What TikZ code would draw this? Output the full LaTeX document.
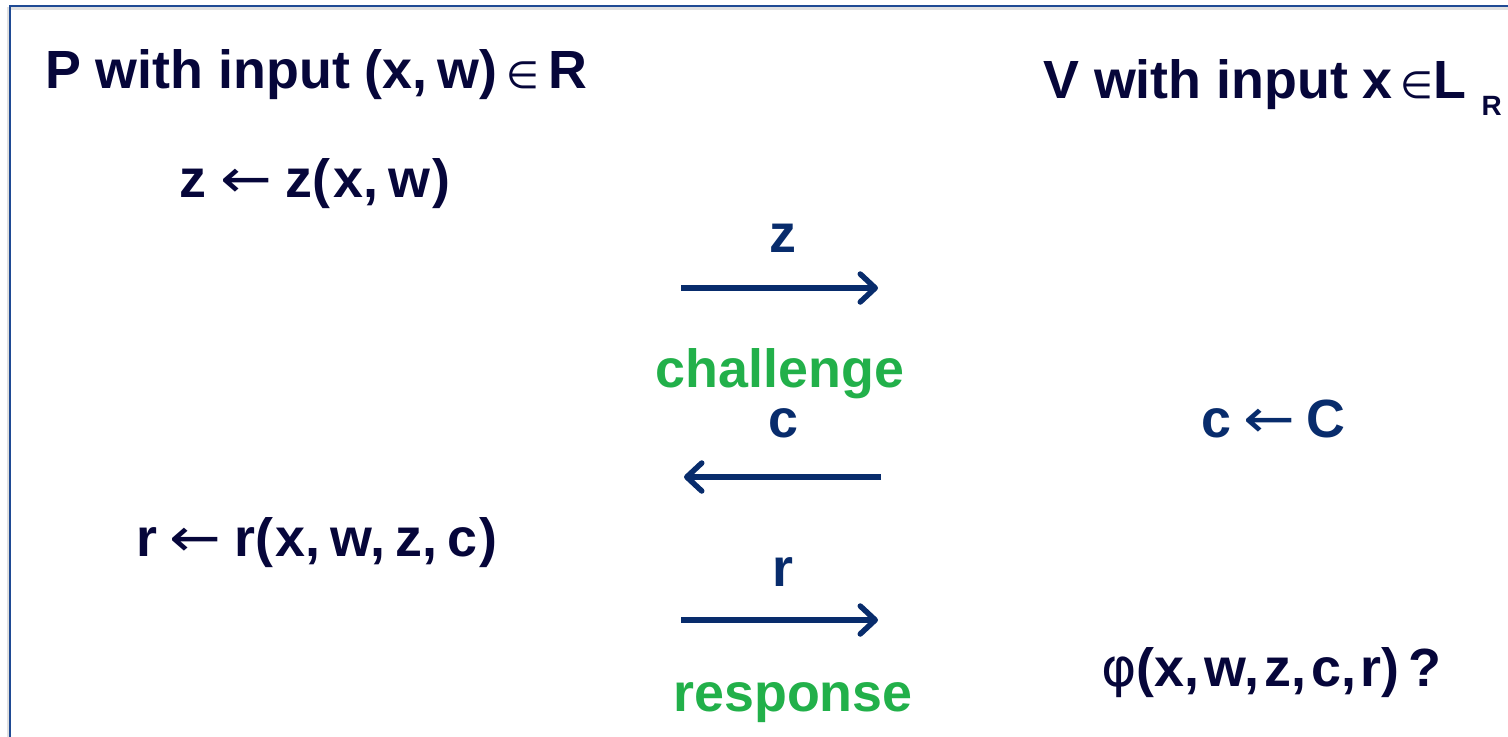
\documentclass[tikz,border=0pt]{standalone}
\usepackage{fontspec}
\setmainfont{Liberation Sans}
\newfontfamily\symfont{DejaVu Sans}
\usetikzlibrary{arrows.meta}

\definecolor{ink}{HTML}{06063A}
\definecolor{arrowblue}{HTML}{082C6C}
\definecolor{frameblue}{HTML}{1F4A94}
\definecolor{labelgreen}{HTML}{22B04A}

% thin-weight symbols set beside the bold text
\newcommand\inSym{\scalebox{0.7}{\symfont\mdseries ∈}}
\newcommand\getsSym{\scalebox{1.15}[1]{\symfont\mdseries ←}}
\newcommand\phiSym{{\symfont\mdseries φ}}
% comma followed by a gap, as in argument lists
\newcommand\sepc{,\kern5bp}
\newcommand\sepw{,\kern10bp}

\begin{document}
\begin{tikzpicture}[x=1bp,y=-1bp,
  txt/.style={inner sep=0pt, anchor=base west, text=ink,
    font=\fontsize{54}{60}\selectfont\bfseries},
  bluetxt/.style={txt, text=arrowblue},
  msglabel/.style={inner sep=0pt, anchor=base, text=arrowblue,
    font=\fontsize{54}{60}\selectfont\bfseries},
  phase/.style={inner sep=0pt, anchor=base, text=labelgreen,
    font=\fontsize{54}{60}\selectfont\bfseries},
  msg/.style={draw=arrowblue, line width=5.5bp,
    -{Straight Barb[length=15bp, width=28bp, line width=5.5bp, line cap=round, line join=round]}},
  frame/.style={draw=frameblue, line width=2.2bp},
  frameshadow/.style={draw=black!12, line width=3bp}]

\useasboundingbox (0,0) rectangle (1508,737);

% slide frame (top and left edges)
\draw[frameshadow] (8,737) -- (8,9) -- (1508,9);
\draw[frame] (10,737) -- (10,6) -- (1508,6);

% party headings
\node[txt] (prover) at (45,88)
  {P with input (x\sepw w)\kern9bp\inSym\kern9bp R};
\node[txt] (verifier) at (1043,98)
  {V with input x\kern8bp\inSym\kern0bp L\kern15bp\raisebox{-17bp}{\fontsize{28}{28}\selectfont R}};

% prover side
\node[txt] (commit) at (179,197)
  {z\kern14bp\getsSym\kern14bp z(\kern3bp x\sepw w\kern2bp)};
\node[txt] (resp) at (136,556)
  {r\kern12bp\getsSym\kern14bp r(\kern2bp x\sepw w\sepw z\sepw c\kern2bp)};

% verifier side
\node[bluetxt] (chal) at (1201,437) {c\kern12bp\getsSym\kern12bp C};
\node[txt] (check) at (1101,686) {\phiSym(x\sepc w\sepc z\sepc c\sepc r)\kern9bp?};

% messages
\coordinate (m1s) at (681,288);
\coordinate (m1e) at (878,288);
\coordinate (m2s) at (881,477);
\coordinate (m2e) at (684,477);
\coordinate (m3s) at (681,620);
\coordinate (m3e) at (878,620);

\draw[msg] (m1s) -- (m1e);
\draw[msg] (m2s) -- (m2e);
\draw[msg] (m3s) -- (m3e);

\node[msglabel] (lz) at (783,252) {z};
\node[phase] (lchal) at (780,387) {challenge};
\node[msglabel] (lc) at (783,437) {c};
\node[msglabel] (lr) at (783,586) {r};
\node[phase] (lresp) at (793,711) {response};

\end{tikzpicture}
\end{document}
